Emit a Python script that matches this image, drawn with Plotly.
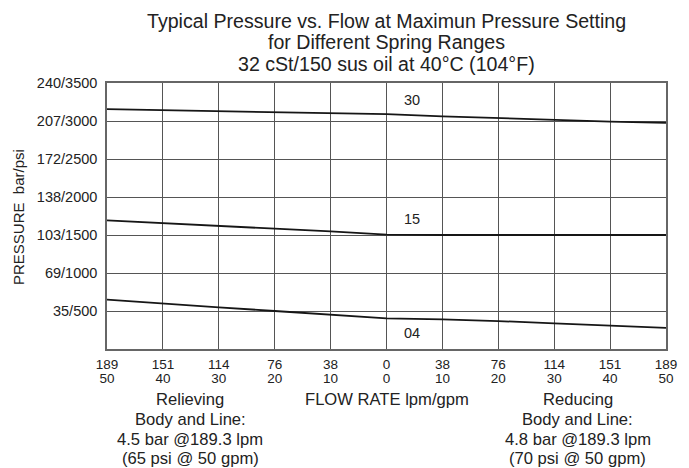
import plotly.graph_objects as go

# ---- data ----
flow_gpm = [-50, -40, -30, -20, -10, 0, 10, 20, 30, 40, 50]
p_spring30 = [3155, 3141, 3128, 3115, 3101, 3090, 3062, 3036, 3013, 2993, 2975]
p_spring15 = [1693, 1654, 1618, 1583, 1549, 1505, 1500, 1500, 1500, 1500, 1500]
p_spring04 = [650, 596, 549, 500, 447, 402, 390, 368, 336, 308, 277]

tick_flow = [-50, -40, -30, -20, -10, 0, 10, 20, 30, 40, 50]
lpm_labels = ["189", "151", "114", "76", "38", "0", "38", "76", "114", "151", "189"]
gpm_labels = ["50", "40", "30", "20", "10", "0", "10", "20", "30", "40", "50"]

tick_psi = [500, 1000, 1500, 2000, 2500, 3000, 3500]
pressure_labels = ["35/500", "69/1000", "103/1500", "138/2000", "172/2500", "207/3000", "240/3500"]

curve_names = ["30", "15", "04"]
curve_label_x = [4.5, 4.5, 4.5]
curve_label_y = [3272, 1716, 207]

title_lines = [
    "Typical Pressure vs. Flow at Maximun Pressure Setting",
    "for Different Spring Ranges",
    "32 cSt/150 sus oil at 40°C (104°F)",
]
left_note = ["Relieving", "Body and Line:", "4.5 bar @189.3 lpm", "(65 psi @ 50 gpm)"]
right_note = ["Reducing", "Body and Line:", "4.8 bar @189.3 lpm", "(70 psi @ 50 gpm)"]
x_title = "FLOW RATE lpm/gpm"
y_title = "PRESSURE  bar/psi"

FONT = "Liberation Sans, Arial, Helvetica, sans-serif"
TXT = "#222222"
GRID = "#555555"

fig = go.Figure()
curves = [p_spring30, p_spring15, p_spring04]
axes_for = ["x", "x", "x2"]
for vals, xa in zip(curves, axes_for):
    fig.add_trace(go.Scatter(
        x=flow_gpm, y=vals, mode="lines", xaxis=xa, yaxis="y",
        line=dict(color="#161616", width=1.8),
        showlegend=False, hoverinfo="skip",
    ))

annotations = []
for name, lx, ly in zip(curve_names, curve_label_x, curve_label_y):
    annotations.append(dict(x=lx, y=ly, xref="x", yref="y", text=name, showarrow=False,
                            font=dict(size=14.5, color=TXT, family=FONT),
                            xanchor="center", yanchor="middle"))

# plot area: x 107..666, y 82.7..348.7
def py(px):
    return (348.7 - px) / 266.0

def pxx(px):
    return (px - 107.0) / 559.0

for txt, ypx in zip(title_lines, [20.6, 41.7, 63.5]):
    annotations.append(dict(x=0.5, y=py(ypx), xref="paper", yref="paper", text=txt,
                            showarrow=False, font=dict(size=19.6, color=TXT, family=FONT),
                            xanchor="center", yanchor="middle", borderpad=0))

for i, ypx in enumerate([399, 419, 439, 458]):
    annotations.append(dict(x=pxx(190), y=py(ypx), xref="paper", yref="paper", text=left_note[i],
                            showarrow=False, font=dict(size=16.6, color=TXT, family=FONT),
                            xanchor="center", yanchor="middle", borderpad=0))
    annotations.append(dict(x=pxx(577.5), y=py(ypx), xref="paper", yref="paper", text=right_note[i],
                            showarrow=False, font=dict(size=16.6, color=TXT, family=FONT),
                            xanchor="center", yanchor="middle", borderpad=0))

annotations.append(dict(x=pxx(386.5), y=py(399), xref="paper", yref="paper", text=x_title,
                        showarrow=False, font=dict(size=16.6, color=TXT, family=FONT),
                        xanchor="center", yanchor="middle", borderpad=0))
annotations.append(dict(x=pxx(18), y=py(216.7), xref="paper", yref="paper", text=y_title,
                        showarrow=False, textangle=-90, font=dict(size=15, color=TXT, family=FONT),
                        xanchor="center", yanchor="middle"))

fig.update_layout(
    width=689, height=468,
    margin=dict(l=107, r=23, t=83, b=119),
    paper_bgcolor="white", plot_bgcolor="white",
    font=dict(family=FONT, color=TXT),
    showlegend=False,
    annotations=annotations,
    xaxis=dict(
        range=[-50, 50], tickmode="array", tickvals=tick_flow, ticktext=lpm_labels,
        showgrid=True, gridcolor=GRID, gridwidth=1,
        showline=True, mirror=True, linecolor="#666666", linewidth=1.5,
        zeroline=False, ticks="", tickfont=dict(size=13.5, color=TXT, family=FONT),
        ticklabelstandoff=2, fixedrange=True,
    ),
    xaxis2=dict(
        range=[-50, 50], overlaying="x", anchor="y", side="bottom",
        tickmode="array", tickvals=tick_flow, ticktext=gpm_labels,
        showgrid=False, showline=False, zeroline=False, ticks="",
        tickfont=dict(size=13.5, color=TXT, family=FONT), ticklabelstandoff=19,
        fixedrange=True,
    ),
    yaxis=dict(
        range=[0, 3500], tickmode="array", tickvals=tick_psi, ticktext=pressure_labels,
        showgrid=True, gridcolor=GRID, gridwidth=1,
        showline=True, mirror=True, linecolor="#666666", linewidth=1.5,
        zeroline=False, ticks="", tickfont=dict(size=14.5, color=TXT, family=FONT),
        ticklabelstandoff=5, fixedrange=True,
    ),
)

fig.write_html("out.html", config={"displayModeBar": False},
               post_script="document.body.style.margin='0px';")
